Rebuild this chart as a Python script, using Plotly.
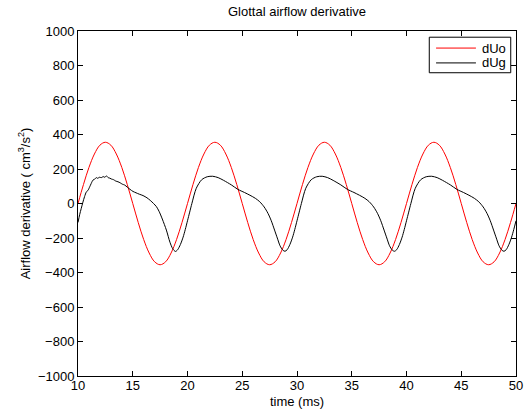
import plotly.graph_objects as go

# Time axis (ms) for the sinusoidal reference dUo, sampled every 0.5 ms
t_uo = [10.0, 10.5, 11.0, 11.5, 12.0, 12.5, 13.0, 13.5, 14.0, 14.5,
        15.0, 15.5, 16.0, 16.5, 17.0, 17.5, 18.0, 18.5, 19.0, 19.5,
        20.0, 20.5, 21.0, 21.5, 22.0, 22.5, 23.0, 23.5, 24.0, 24.5,
        25.0, 25.5, 26.0, 26.5, 27.0, 27.5, 28.0, 28.5, 29.0, 29.5,
        30.0, 30.5, 31.0, 31.5, 32.0, 32.5, 33.0, 33.5, 34.0, 34.5,
        35.0, 35.5, 36.0, 36.5, 37.0, 37.5, 38.0, 38.5, 39.0, 39.5,
        40.0, 40.5, 41.0, 41.5, 42.0, 42.5, 43.0, 43.5, 44.0, 44.5,
        45.0, 45.5, 46.0, 46.5, 47.0, 47.5, 48.0, 48.5, 49.0, 49.5,
        50.0]
dUo = [0, 110, 209, 287, 338, 355, 338, 287, 209, 110,
       0, -110, -209, -287, -338, -355, -338, -287, -209, -110,
       0, 110, 209, 287, 338, 355, 338, 287, 209, 110,
       0, -110, -209, -287, -338, -355, -338, -287, -209, -110,
       0, 110, 209, 287, 338, 355, 338, 287, 209, 110,
       0, -110, -209, -287, -338, -355, -338, -287, -209, -110,
       0, 110, 209, 287, 338, 355, 338, 287, 209, 110,
       0, -110, -209, -287, -338, -355, -338, -287, -209, -110,
       0]

# Glottal airflow derivative dUg (ms, cm^3/s^2)
t_ug = [10.0, 10.15, 10.3, 10.45, 10.6, 10.77, 10.9, 11.07, 11.2, 11.37,
        11.5, 11.68, 11.8, 11.95, 12.13, 12.3, 12.45, 12.59, 12.75, 12.9,
        13.05, 13.25, 13.45, 13.65, 13.85, 14.05, 14.26, 14.5, 14.75, 15.02,
        15.3, 15.6, 15.94, 16.3, 16.6, 16.9, 17.16, 17.4, 17.7, 18.07,
        18.4, 18.65, 18.9, 19.1, 19.35, 19.6, 19.8,
        20.0, 20.2, 20.4, 20.8, 21.3, 21.8, 22.3, 22.8, 23.3, 24.0,
        24.6, 25.2, 25.7, 26.2, 26.6, 27.0, 27.35, 27.65, 27.95, 28.2,
        28.45, 28.7, 28.9, 29.1, 29.35, 29.6, 29.8,
        30.0, 30.2, 30.4, 30.8, 31.3, 31.8, 32.3, 32.8, 33.3, 34.0,
        34.6, 35.2, 35.7, 36.2, 36.6, 37.0, 37.35, 37.65, 37.95, 38.2,
        38.45, 38.7, 38.9, 39.1, 39.35, 39.6, 39.8,
        40.0, 40.2, 40.4, 40.8, 41.3, 41.8, 42.3, 42.8, 43.3, 44.0,
        44.6, 45.2, 45.7, 46.2, 46.6, 47.0, 47.35, 47.65, 47.95, 48.2,
        48.45, 48.7, 48.9, 49.1, 49.35, 49.6, 49.8,
        50.0]
dUg = [-110, -65, -28, 8, 40, 68, 75, 97, 115, 136,
       140, 150, 146, 152, 150, 156, 152, 160, 150, 147,
       142, 138, 130, 126, 120, 112, 107, 95, 82, 70,
       62, 54, 46, 33, 18, 0, -18, -45, -90, -154,
       -225, -262, -278, -268, -238, -195, -150,
       -100, -50, 0, 88, 138, 155, 158, 150, 134, 108,
       82, 64, 48, 30, 10, -20, -57, -100, -154, -200,
       -245, -270, -277, -268, -238, -195, -150,
       -100, -50, 0, 88, 138, 155, 158, 150, 134, 108,
       82, 64, 48, 30, 10, -20, -57, -100, -154, -200,
       -245, -270, -277, -268, -238, -195, -150,
       -100, -50, 0, 88, 138, 155, 158, 150, 134, 108,
       82, 64, 48, 30, 10, -20, -57, -100, -154, -200,
       -245, -270, -277, -268, -238, -195, -150,
       -100]

series_names = ["dUo", "dUg"]
series_colors = ["#ff0000", "#000000"]

x_ticks = [10, 15, 20, 25, 30, 35, 40, 45, 50]
y_ticks = [-1000, -800, -600, -400, -200, 0, 200, 400, 600, 800, 1000]

FONT = "Liberation Sans, Arial, Helvetica, sans-serif"

fig = go.Figure()
fig.add_trace(go.Scatter(x=t_uo, y=dUo, mode="lines", name=series_names[0],
                         line=dict(color=series_colors[0], width=1, shape="spline", smoothing=1.0)))
fig.add_trace(go.Scatter(x=t_ug, y=dUg, mode="lines", name=series_names[1],
                         line=dict(color=series_colors[1], width=1, shape="spline", smoothing=0.8)))

axis_common = dict(showgrid=False, zeroline=False, showline=True, linecolor="black",
                   linewidth=1, mirror="ticks", ticks="inside", ticklen=5,
                   tickcolor="black", tickwidth=1, automargin=False,
                   tickfont=dict(family=FONT, size=13, color="black"))

fig.update_xaxes(range=[10, 50], tickvals=x_ticks, ticktext=[str(v) for v in x_ticks],
                 ticklabelstandoff=-3,
                 title=dict(text="time (ms)", font=dict(family=FONT, size=13, color="black"),
                            standoff=5),
                 **axis_common)
fig.update_yaxes(range=[-1000, 1000], tickvals=y_ticks,
                 ticktext=[str(v).replace("-", "\u2212") for v in y_ticks],
                 title=dict(text="Airflow derivative ( cm<sup>3</sup>/s<sup>2</sup>)",
                            font=dict(family=FONT, size=13, color="black"), standoff=4),
                 **axis_common)

# MATLAB-style legend box (compact row spacing), in paper coordinates
leg_x0, leg_x1, leg_y0, leg_y1 = 0.802, 0.988, 0.879, 0.982
row_y = [0.9505, 0.9075]
line_x0, line_x1, text_x = 0.8175, 0.9085, 0.9175
shapes = [dict(type="rect", xref="paper", yref="paper", x0=leg_x0, x1=leg_x1,
               y0=leg_y0, y1=leg_y1, line=dict(color="black", width=1),
               fillcolor="white", layer="above")]
annotations = []
for name, color, ry in zip(series_names, series_colors, row_y):
    shapes.append(dict(type="line", xref="paper", yref="paper", x0=line_x0, x1=line_x1,
                       y0=ry, y1=ry, line=dict(color=color, width=1), layer="above"))
    annotations.append(dict(text=name, xref="paper", yref="paper", x=text_x, y=ry,
                            xanchor="left", yanchor="middle", showarrow=False,
                            font=dict(family=FONT, size=13, color="black")))

fig.update_layout(
    width=528, height=415,
    margin=dict(l=78, r=12, t=31, b=39),
    paper_bgcolor="white", plot_bgcolor="white",
    font=dict(family=FONT, size=13, color="black"),
    title=dict(text="Glottal airflow derivative", x=0.5625, xanchor="center",
               y=0.972, yanchor="middle", font=dict(family=FONT, size=13, color="black")),
    showlegend=False,
    shapes=shapes,
    annotations=annotations,
)

fig.write_html("out.html")
